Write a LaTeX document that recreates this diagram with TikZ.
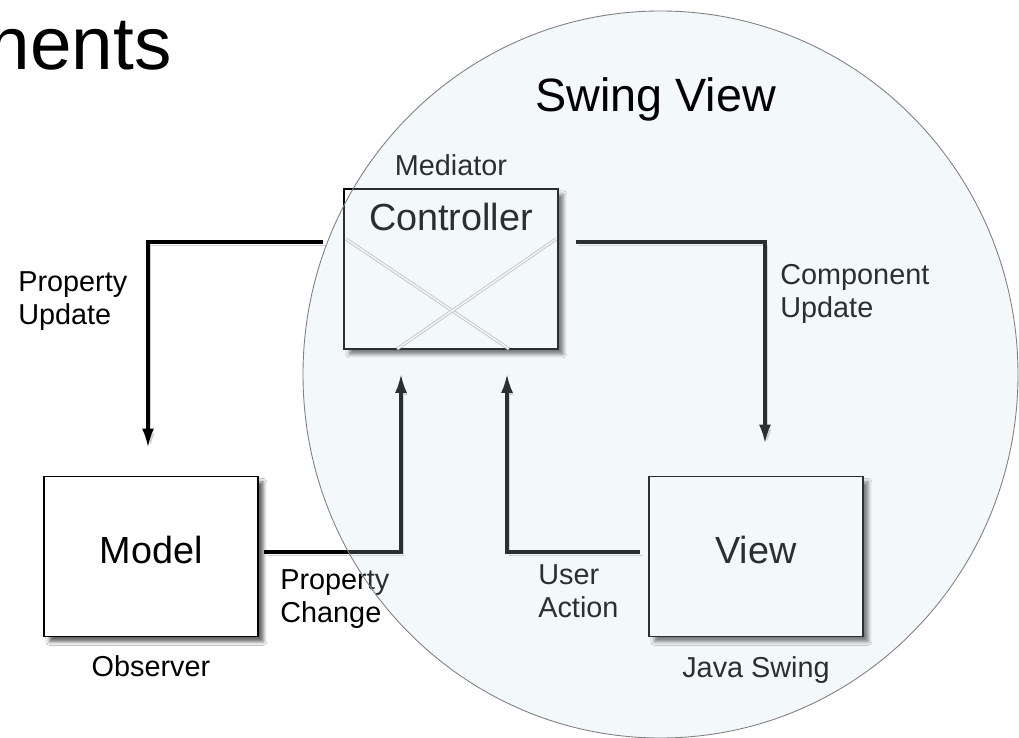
\documentclass[tikz,border=0pt]{standalone}
\usepackage{fontspec}
\setmainfont{Liberation Sans}
\usepackage{tikz}
\usetikzlibrary{arrows.meta, positioning, shapes.geometric, calc, shadows.blur}
\definecolor{swingblue}{RGB}{203,222,236}
\newcommand{\labelfont}{\fontsize{16.4}{18.7}\selectfont}
\newcommand{\boxfont}{\fontsize{21.5}{25}\selectfont}

\begin{document}
\begin{tikzpicture}[
    part/.style={draw=black, line width=1pt, fill=white, minimum width=4.28cm, minimum height=3.2cm,
        inner sep=0pt, font=\boxfont, text depth=0.28cm,
        blur shadow={shadow xshift=3pt, shadow yshift=-3pt, shadow blur radius=2pt, shadow opacity=60}},
    tag/.style={inner sep=0pt, font=\labelfont, align=left},
    flow/.style={line width=1.8pt, -{Latex[length=0.38cm, width=0.24cm]},
        preaction={draw=black!18, transform canvas={xshift=1.5pt, yshift=-2pt}}},
    cross/.style={draw=black!25, double=white, double distance=0.8pt, line width=0.5pt},
    swingarea/.style={ellipse, draw=black!50, line width=0.5pt, fill=swingblue, fill opacity=0.21,
        minimum width=14.3cm, minimum height=14.54cm, inner sep=0pt}
]
    \useasboundingbox[fill=white] (0,0) rectangle (20.38,-14.76);

    \node[anchor=base east, inner sep=0pt, font=\fontsize{42.5}{48}\selectfont] (title) at (3.44,-1.4) {nents};

    \node[part] (ctrl) at (9.02,-5.38) {};
    \node[part] (model) at (3.02,-11.13) {Model};
    \node[part] (view) at (15.12,-11.13) {View};
    \node[tag, below=0.3cm of ctrl.north, font=\boxfont] (ctrlname) {Controller};
    \draw[cross] ([shift={(0.06,-1.02)}]ctrl.north west) -- ([shift={(-1.0,0.02)}]ctrl.south east);
    \draw[cross] ([shift={(-0.06,-1.02)}]ctrl.north east) -- ([shift={(1.08,0.02)}]ctrl.south west);

    \node[tag, above=0.24cm of ctrl] (mediator) {Mediator};
    \node[tag, below=0.36cm of model] (observer) {Observer};
    \node[tag, below=0.38cm of view] (swinglib) {Java Swing};

    \draw[flow, shorten <=0.4cm, shorten >=0.56cm] ([yshift=0.54cm]ctrl.west) -| ([xshift=-0.06cm]model.north);
    \draw[flow, shorten <=0.34cm, shorten >=0.64cm] ([yshift=0.54cm]ctrl.east) -| ([xshift=0.18cm]view.north);
    \draw[flow, shorten <=0.1cm, shorten >=0.48cm] ([yshift=0.09cm]model.east) -| ([xshift=-1cm]ctrl.south);
    \draw[flow, shorten <=0.16cm, shorten >=0.48cm] ([yshift=0.09cm]view.west) -| ([xshift=1.12cm]ctrl.south);

    \node[tag, anchor=north west] (propupdate) at (0.36,-5.42) {Property\\Update};
    \node[tag, anchor=north west] (compupdate) at (15.6,-5.28) {Component\\Update};
    \node[tag, anchor=north west] (propchange) at (5.6,-11.38) {Property\\Change};
    \node[tag, anchor=north west] (useraction) at (10.76,-11.28) {User\\Action};

    \node[swingarea] (swing) at (13.21,-7.49) {};
    \node[anchor=base west, inner sep=0pt, font=\fontsize{26.6}{30}\selectfont] (swingname) at (10.7,-2.24) {Swing View};
\end{tikzpicture}
\end{document}
